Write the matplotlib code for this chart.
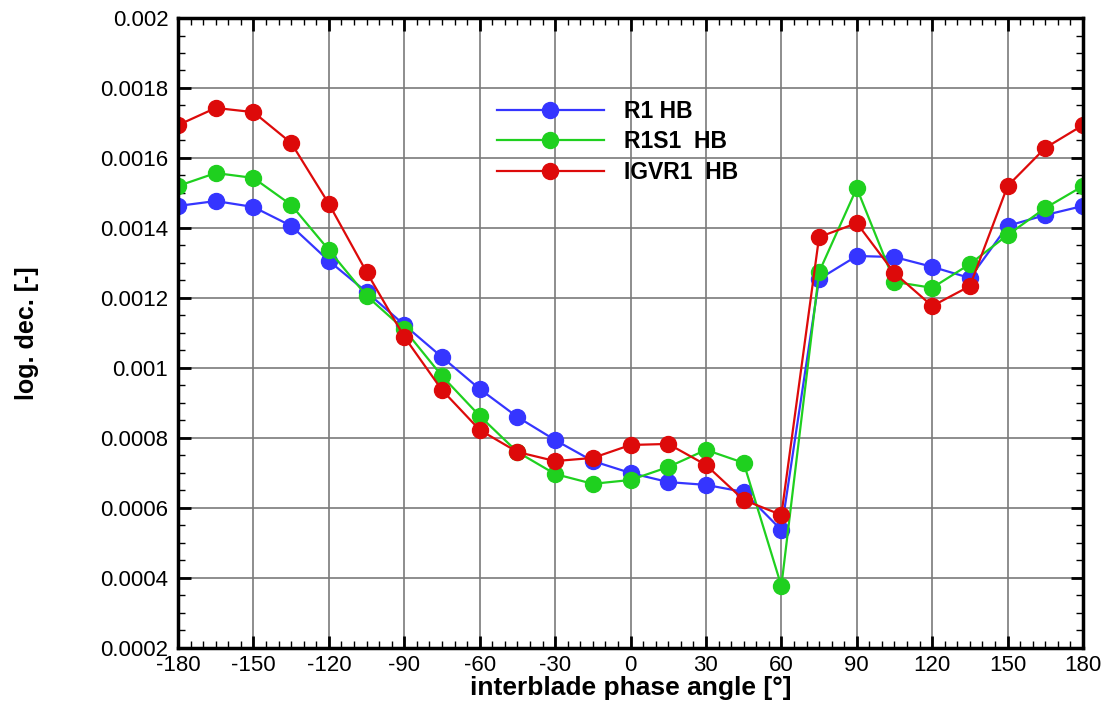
import numpy as np
import matplotlib
matplotlib.use('Agg')
import matplotlib.pyplot as plt
from matplotlib.ticker import MultipleLocator, FuncFormatter

plt.rcParams['font.family'] = ['Liberation Sans', 'DejaVu Sans']
plt.rcParams['axes.unicode_minus'] = False

# interblade phase angle [deg]
ibpa = [-180, -165, -150, -135, -120, -105, -90, -75, -60, -45, -30, -15,
        0, 15, 30, 45, 60, 75, 90, 105, 120, 135, 150, 165, 180]

r1_hb = [0.001463, 0.001477, 0.001460, 0.001406, 0.001306, 0.001217, 0.001123,
         0.001031, 0.000940, 0.000860, 0.000794, 0.000734, 0.000700, 0.000674,
         0.000666, 0.000646, 0.000537, 0.001254, 0.001320, 0.001317, 0.001289,
         0.001257, 0.001406, 0.001437, 0.001463]

r1s1_hb = [0.001520, 0.001557, 0.001543, 0.001466, 0.001337, 0.001206, 0.001110,
           0.000977, 0.000863, 0.000760, 0.000697, 0.000669, 0.000680, 0.000717,
           0.000766, 0.000729, 0.000377, 0.001274, 0.001514, 0.001246, 0.001229,
           0.001297, 0.001380, 0.001457, 0.001520]

igvr1_hb = [0.001694, 0.001743, 0.001731, 0.001643, 0.001469, 0.001274, 0.001089,
            0.000937, 0.000823, 0.000760, 0.000734, 0.000743, 0.000780, 0.000783,
            0.000723, 0.000623, 0.000580, 0.001374, 0.001414, 0.001271, 0.001177,
            0.001234, 0.001520, 0.001629, 0.001694]

series = [("R1 HB", r1_hb, '#3535ff'),
          ("R1S1  HB", r1s1_hb, '#1fd01f'),
          ("IGVR1  HB", igvr1_hb, '#dd0a0a')]

fig = plt.figure(figsize=(11.1, 7.06), dpi=100)
ax = fig.add_axes([0.1604, 0.0822, 0.8153, 0.8923])

for label, vals, col in series:
    ax.plot(ibpa, vals, '-o', color=col, lw=1.6, ms=11.5, label=label)

ax.set_xlim(-180, 180)
ax.set_ylim(0.0002, 0.002)
ax.xaxis.set_major_locator(MultipleLocator(30))
ax.xaxis.set_minor_locator(MultipleLocator(5))
ax.yaxis.set_major_locator(MultipleLocator(0.0002))
ax.yaxis.set_minor_locator(MultipleLocator(0.00005))
ax.yaxis.set_major_formatter(FuncFormatter(lambda v, p: '%g' % round(v, 6)))
ax.xaxis.set_major_formatter(FuncFormatter(lambda v, p: '%d' % round(v)))

ax.grid(True, which='major', color='#7a7a7a', lw=1.2)
ax.set_axisbelow(True)
ax.tick_params(which='both', direction='in', top=True, right=True, labelsize=16)
ax.tick_params(which='major', length=9, width=2)
ax.tick_params(which='minor', length=5, width=1)
ax.tick_params(axis='x', pad=5)
ax.tick_params(axis='y', pad=7)
for s in ax.spines.values():
    s.set_linewidth(2.5)

ax.set_xlabel('interblade phase angle [°]', fontsize=19, fontweight='bold', labelpad=0)
ax.set_ylabel('log. dec. [-]', fontsize=18, fontweight='bold', labelpad=44)

leg = ax.legend(loc='upper left', bbox_to_anchor=(0.352, 0.87), frameon=False,
                borderpad=0, borderaxespad=0, handlelength=4.7, handletextpad=0.85,
                labelspacing=0.33, prop={'weight': 'bold', 'size': 16.5})

fig.savefig('out.png', dpi=100)
